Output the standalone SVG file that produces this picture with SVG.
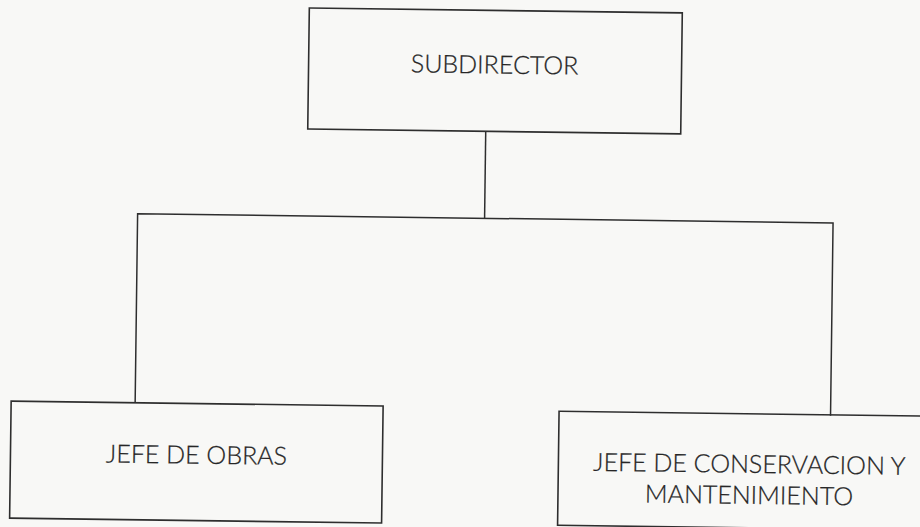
<svg xmlns="http://www.w3.org/2000/svg" width="920" height="527" viewBox="0 0 920 527">
  <style>
    .box { fill: none; stroke: #2e2e2e; stroke-width: 1.6; }
    .wire { fill: none; stroke: #2e2e2e; stroke-width: 1.5; }
    .label { font-family: Lato, "Open Sans", "Liberation Sans", sans-serif; font-weight: 300; font-size: 25px; fill: #262626; text-anchor: middle; stroke: #262626; stroke-width: 0.25; }
  </style>
  <rect width="920" height="527" fill="#f8f8f6"/>
  <!-- the whole chart sits slightly tilted on the page -->
  <g transform="rotate(0.75 460 263)">
    <g id="connectors">
      <path class="wire" d="M484 131 V218"/>
      <path class="wire" d="M137 407 V218 H832.5 V411"/>
    </g>
    <g id="subdirector">
      <rect class="box" x="306" y="10" width="373" height="121"/>
      <text class="label" x="492" y="73">SUBDIRECTOR</text>
    </g>
    <g id="jefe-obras">
      <rect class="box" x="13" y="407" width="372" height="117"/>
      <text class="label" x="199" y="467">JEFE DE OBRAS</text>
    </g>
    <g id="jefe-conservacion">
      <rect class="box" x="561" y="410" width="382" height="114"/>
      <text class="label" x="752" y="469" font-size="24.5">JEFE DE CONSERVACION Y</text>
      <text class="label" x="752" y="500" font-size="24.5">MANTENIMIENTO</text>
    </g>
  </g>
</svg>
